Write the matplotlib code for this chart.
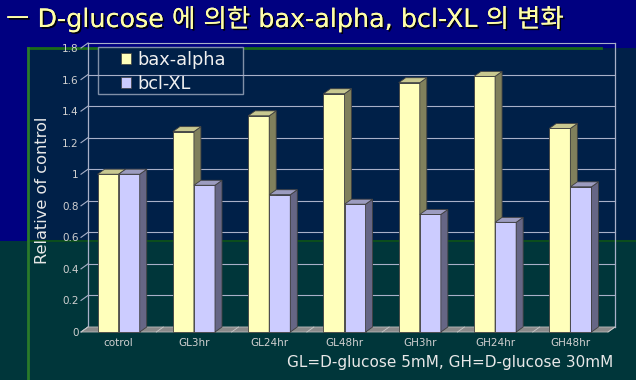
import numpy as np
import matplotlib
matplotlib.use("Agg")
import matplotlib.pyplot as plt
from matplotlib.patches import Polygon, Rectangle, Patch
import matplotlib.patheffects as pe

categories = ["cotrol", "GL3hr", "GL24hr", "GL48hr", "GH3hr", "GH24hr", "GH48hr"]
bax_alpha = [1.00, 1.27, 1.37, 1.51, 1.58, 1.62, 1.29]
bcl_xl = [1.00, 0.93, 0.87, 0.81, 0.745, 0.695, 0.92]
series_names = ["bax-alpha", "bcl-XL"]
yticks = [0, 0.2, 0.4, 0.6, 0.8, 1.0, 1.2, 1.4, 1.6, 1.8]
ytick_labels = ["0", "0.2", "0.4", "0.6", "0.8", "1", "1.2", "1.4", "1.6", "1.8"]

title = "ㅡ D-glucose 에 의한 bax-alpha, bcl-XL 의 변화"
note = "GL=D-glucose 5mM, GH=D-glucose 30mM"

# face colours: front, side, top
colors = {
    "bax-alpha": ("#FFFFBB", "#80805C", "#C8C890"),
    "bcl-XL": ("#CCCCFF", "#666685", "#9C9CC0"),
}

W, H = 636, 380
fig = plt.figure(figsize=(W / 100, H / 100), dpi=100)
fig.patch.set_facecolor("#000080")

# slide background, pixel coordinates
bg = fig.add_axes([0, 0, 1, 1], zorder=0)
bg.set_xlim(0, W)
bg.set_ylim(H, 0)
bg.axis("off")
bg.add_patch(Rectangle((28, 48), W - 28, 193, color="#002048", lw=0))
bg.add_patch(Rectangle((0, 241), W, H - 241, color="#00363A", lw=0))
bg.plot([28, W], [241, 241], color="#0B4D1D", lw=1.5)
bg.plot([28, 601], [48, 48], color="#1A6A1A", lw=2)
bg.plot([28, 28], [48, H], color="#2A7A2A", lw=2)

bg.text(6, 27, title, fontsize=18.3, color="#FFFFA8", ha="left", va="baseline",
        family=["DejaVu Sans", "Noto Sans CJK KR"],
        path_effects=[pe.withSimplePatchShadow(offset=(1.2, -1.2), shadow_rgbFace="black", alpha=0.9),
                      pe.Normal()])
bg.text(613, 362, note, fontsize=11, color="#E8E8E8", ha="right", va="center")

# main axes = front plane of the 3d box
left, right, bottom, top = 81, 608, 332, 48
ax = fig.add_axes([left / W, (H - bottom) / H, (right - left) / W, (bottom - top) / H], zorder=1)
ax.patch.set_alpha(0)
n = len(categories)
ax.set_xlim(-0.5, n - 0.5)
ax.set_ylim(0, 1.8)
for s in ax.spines.values():
    s.set_visible(False)

# depth of the box in data units (7 px right, 5 px up)
dx = 7 * n / (right - left)
dy = 5 * 1.8 / (bottom - top)

wall = "#A8B0C8"
x0, x1 = -0.5, n - 0.5
# back wall gridlines and frame
for t in yticks:
    ax.plot([x0 + dx, x1 + dx], [t + dy, t + dy], color=wall, lw=0.8, clip_on=False, zorder=1)
    ax.plot([x0, x0 + dx], [t, t + dy], color=wall, lw=0.8, clip_on=False, zorder=1)
ax.plot([x0 + dx, x0 + dx], [dy, 1.8 + dy], color=wall, lw=0.9, clip_on=False, zorder=1)
ax.plot([x1 + dx, x1 + dx], [dy, 1.8 + dy], color=wall, lw=0.9, clip_on=False, zorder=1)

# floor
ax.add_patch(Polygon([[x0, 0], [x1, 0], [x1 + dx, dy], [x0 + dx, dy]], closed=True,
                     facecolor="#8A8A8A", edgecolor="#B8B8B8", lw=0.6, clip_on=False, zorder=2))
for b in np.arange(n + 1) - 0.5:
    ax.plot([b, b + dx], [0, dy], color="#C8C8C8", lw=0.6, clip_on=False, zorder=2)

w = 0.28
xs = np.arange(n)
for k, (name, vals) in enumerate(zip(series_names, [bax_alpha, bcl_xl])):
    front, side, topc = colors[name]
    lefts = xs - w + k * w
    z = 3 + k
    ax.bar(lefts, vals, width=w, align="edge", color=front, edgecolor="#404040",
           lw=0.6, zorder=z, clip_on=False)
    for xl, v in zip(lefts, vals):
        ax.add_patch(Polygon([[xl + w, 0], [xl + w, v], [xl + w + dx, v + dy], [xl + w + dx, dy]],
                             closed=True, facecolor=side, edgecolor="#404040", lw=0.6,
                             zorder=z, clip_on=False))
        ax.add_patch(Polygon([[xl, v], [xl + w, v], [xl + w + dx, v + dy], [xl + dx, v + dy]],
                             closed=True, facecolor=topc, edgecolor="#404040", lw=0.6,
                             zorder=z, clip_on=False))

ax.set_xticks(xs)
ax.set_xticklabels(categories)
ax.set_yticks(yticks)
ax.set_yticklabels(ytick_labels)
ax.tick_params(axis="both", length=0, colors="#D0D0D0", labelsize=7.5)
ax.tick_params(axis="y", pad=1.5)
ax.tick_params(axis="x", pad=4.5)
ax.set_ylabel("Relative of control", fontsize=11.7, color="#E8E8E8", labelpad=9)

# legend frame drawn separately so the squares sit where the original has them
bg.add_patch(Rectangle((98, 47), 145, 47, facecolor="#002048", edgecolor="#8090A8", lw=1, zorder=5))
handles = [Patch(facecolor=colors[nm][0], edgecolor="#404040", lw=0.5) for nm in series_names]
leg = fig.legend(handles, series_names, loc="upper left", bbox_to_anchor=(121 / W, 1 - 51 / H),
                 frameon=False, fontsize=12.8, handlelength=0.56, handleheight=0.56,
                 handletextpad=0.34, borderpad=0, borderaxespad=0, labelspacing=0.32)
for t in leg.get_texts():
    t.set_color("#F0F0F0")
leg.set_zorder(6)

fig.savefig("out.png", dpi=100, facecolor=fig.get_facecolor())
